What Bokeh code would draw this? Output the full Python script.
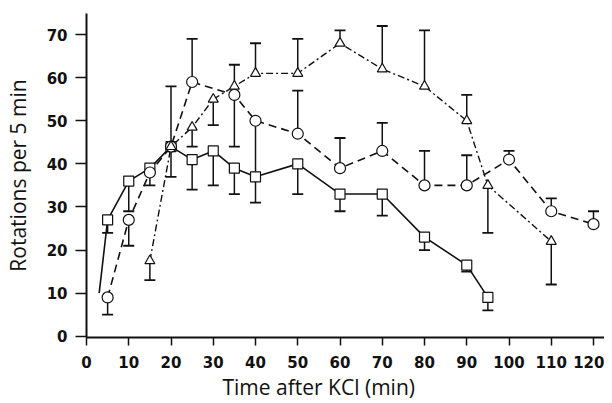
from bokeh.plotting import figure
from bokeh.models import Range1d, FixedTicker, Title
from bokeh.embed import file_html
from bokeh.resources import INLINE

# ---- data ----
sq_x = [5, 10, 15, 20, 25, 30, 35, 40, 50, 60, 70, 80, 90, 95]
sq_y = [27, 36, 39, 44, 41, 43, 39, 37, 40, 33, 33, 23, 16.5, 9]
sq_err = [24, 29, None, 37, 34, 35, 33, 31, 33, 29, 28, 20, 15, 6]
sq_lead_x = [3]
sq_lead_y = [10]

ci_x = [5, 10, 15, 20, 25, 35, 40, 50, 60, 70, 80, 90, 100, 110, 120]
ci_y = [9, 27, 38, 44, 59, 56, 50, 47, 39, 43, 35, 35, 41, 29, 26]
ci_err = [5, 21, 35, None, 69, 44, 37, 57, 46, 49.5, 43, 42, 43, 32, 29]

tr_x = [15, 20, 25, 30, 35, 40, 50, 60, 70, 80, 90, 95, 110]
tr_y = [17.5, 44, 48.5, 55, 58, 61, 61, 68, 62, 58, 50, 35, 22]
tr_err = [13, 58, 44, 49, 63, 68, 69, 71, 72, 71, 56, 24, 12]

x_ticks = [0, 10, 20, 30, 40, 50, 60, 70, 80, 90, 100, 110, 120]
y_ticks = [0, 10, 20, 30, 40, 50, 60, 70]
x_title = "Time after KCl (min)"
y_title = "Rotations per 5 min"

INK = "#111111"

p = figure(width=604, height=403, output_backend="svg", toolbar_location=None,
           x_range=Range1d(0, 122.6), y_range=Range1d(-0.3, 74.9),
           min_border_left=86, min_border_right=0, min_border_top=13,
           min_border_bottom=66)
p.outline_line_color = None
p.grid.visible = False
p.background_fill_color = "white"
p.border_fill_color = "white"


def errbars(xs, ys, es):
    ex, y0, y1 = [], [], []
    for x, y, e in zip(xs, ys, es):
        if e is None:
            continue
        ex.append(x); y0.append(y); y1.append(e)
    p.segment(x0=ex, y0=y0, x1=ex, y1=y1, line_color=INK, line_width=1.5)
    p.scatter(x=ex, y=y1, marker="dash", size=11, line_color=INK, line_width=1.8)


errbars(sq_x, sq_y, sq_err)
errbars(ci_x, ci_y, ci_err)
errbars(tr_x, tr_y, tr_err)

p.line(sq_lead_x + sq_x, sq_lead_y + sq_y, line_color=INK, line_width=1.6)
p.line(ci_x, ci_y, line_color=INK, line_width=1.6, line_dash="8 5")
p.line(tr_x, tr_y, line_color=INK, line_width=1.4, line_dash="7 3 2 3")

p.scatter(sq_x, sq_y, marker="square", size=10, fill_color="white", line_color=INK, line_width=1.2)
p.scatter(ci_x, ci_y, marker="circle", size=11, fill_color="white", line_color=INK, line_width=1.2)
p.scatter(tr_x, tr_y, marker="triangle", size=10, fill_color="white", line_color=INK, line_width=1.2)

for ax in (p.xaxis[0], p.yaxis[0]):
    ax.axis_line_color = INK
    ax.axis_line_width = 2
    ax.major_tick_line_color = INK
    ax.major_tick_line_width = 1.5
    ax.major_tick_in = 0
    ax.minor_tick_line_color = None
    ax.major_label_text_font = "DejaVu Sans"
    ax.major_label_text_font_style = "bold"
    ax.major_label_text_font_size = "15px"
    ax.major_label_text_color = INK
    ax.axis_label_text_font = "Open Sans"
    ax.axis_label_text_font_style = "normal"
    ax.axis_label_text_font_size = "21px"
    ax.axis_label_text_color = INK

p.xaxis.ticker = FixedTicker(ticks=x_ticks)
p.yaxis.ticker = FixedTicker(ticks=y_ticks)
p.xaxis.major_tick_out = 8
p.yaxis.major_tick_out = 11
p.xaxis.major_label_standoff = 10
p.yaxis.major_label_standoff = 8
p.yaxis.axis_label = y_title
p.yaxis.axis_label_standoff = 12

# x title sits left of the frame centre in the reference
p.add_layout(Title(text=x_title, align="left", offset=136, standoff=0,
                   text_font="Open Sans", text_font_size="21px",
                   text_font_style="normal", text_color=INK), "below")

open("out.html", "w").write(file_html(p, INLINE))
